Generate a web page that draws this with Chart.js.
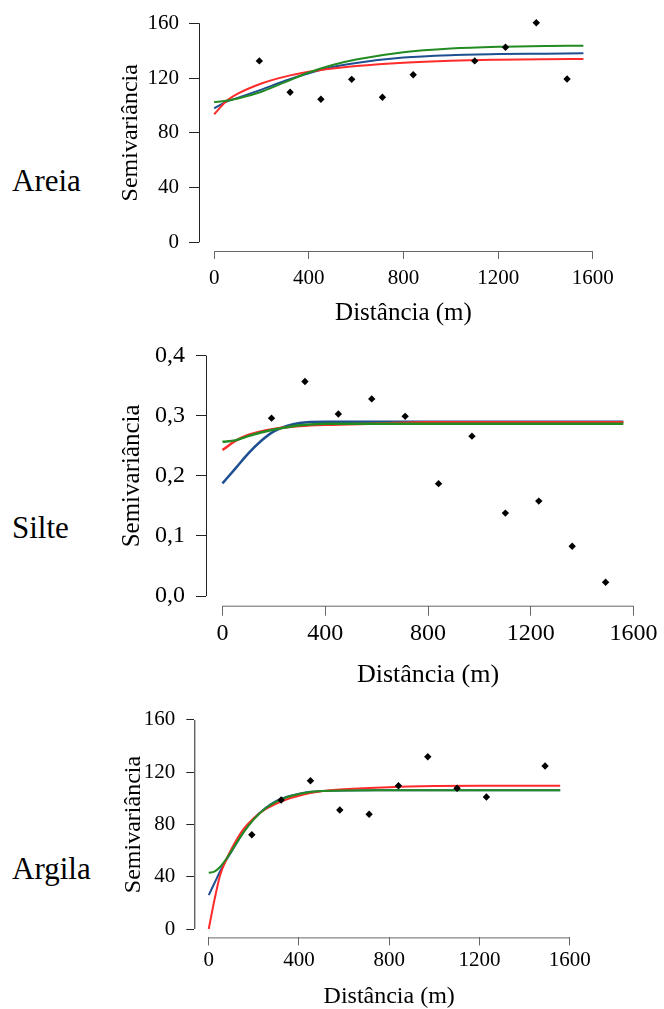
<!DOCTYPE html>
<html>
<head>
<meta charset="utf-8">
<script src="https://cdn.jsdelivr.net/npm/chart.js@4.4.1/dist/chart.umd.min.js"></script>
<style>
    body { margin: 0; background: #fff; }
    #wrap { position: relative; width: 664px; height: 1009px; overflow: hidden; }
    canvas { position: absolute; left: 0; }
    .rotulo { position: absolute; left: 12px; font-family: "Liberation Serif", "Times New Roman", serif; font-size: 31px; line-height: 31px; color: #000; }
</style>
</head>
<body>
<div id="wrap">
    <div class="rotulo" style="top:165px">Areia</div>
    <div class="rotulo" style="top:512px">Silte</div>
    <div class="rotulo" style="top:853px">Argila</div>
    <canvas id="chartAreia" width="664" height="335" style="top:0px"></canvas>
    <canvas id="chartSilte" width="664" height="370" style="top:330px"></canvas>
    <canvas id="chartArgila" width="664" height="319" style="top:690px"></canvas>
</div>
<script>
// Semivariogramas experimentais (pontos) e modelos ajustados (curvas)
const xTicks = [0, 400, 800, 1200, 1600];
const xTickLabels = ['0', '400', '800', '1200', '1600'];

// Areia
const areiaDist = [191, 321, 451, 581, 711, 841, 1101, 1231, 1361, 1491];
const areiaGamma = [132.5, 109.6, 104.5, 119.0, 105.9, 122.4, 132.5, 142.5, 160.4, 119.3];
const areiaCurveDist = [0, 50, 100, 200, 300, 400, 500, 600, 800, 1000, 1200, 1400, 1560];
const areiaRed = [93.5, 102.8, 108.5, 116, 121, 124.5, 127, 128.8, 131.2, 132.6, 133.3, 133.7, 133.9];
const areiaBlue = [97.9, 102.5, 105.5, 111.5, 118, 123.5, 128, 131, 134.9, 136.7, 137.5, 137.8, 138];
const areiaGreen = [102.5, 103.3, 105, 110, 117, 124, 129.5, 133.5, 138.8, 141.5, 142.8, 143.4, 143.6];
const areiaYTicks = [0, 40, 80, 120, 160];
const areiaYLabels = ['0', '40', '80', '120', '160'];

// Silte
const silteDist = [191, 321, 451, 581, 711, 841, 971, 1101, 1231, 1361, 1491];
const silteGamma = [0.296, 0.357, 0.303, 0.328, 0.299, 0.187, 0.266, 0.138, 0.158, 0.083, 0.023];
const silteCurveDist = [0, 50, 100, 150, 200, 250, 300, 400, 600, 800, 1000, 1200, 1400, 1560];
const silteRed = [0.243, 0.258, 0.268, 0.274, 0.278, 0.281, 0.283, 0.285, 0.287, 0.289, 0.289, 0.289, 0.289, 0.289];
const silteBlue = [0.1875, 0.212, 0.237, 0.258, 0.274, 0.283, 0.288, 0.290, 0.290, 0.290, 0.290, 0.290, 0.290, 0.290];
const silteGreen = [0.2567, 0.259, 0.266, 0.272, 0.277, 0.281, 0.284, 0.2867, 0.2867, 0.2867, 0.2867, 0.2867, 0.2867, 0.2867];
const silteYTicks = [0, 0.1, 0.2, 0.3, 0.4];
const silteYLabels = ['0,0', '0,1', '0,2', '0,3', '0,4'];

// Argila
const argilaDist = [191, 321, 451, 581, 711, 841, 971, 1101, 1231, 1491];
const argilaGamma = [72.2, 98.8, 113.5, 91.1, 87.8, 109.7, 131.9, 107.7, 101.1, 124.8];
const argilaCurveDist = [0, 25, 50, 75, 100, 150, 200, 250, 300, 350, 400, 450, 500, 600, 800, 1000, 1200, 1558];
const argilaRed = [0, 22, 41, 52, 61, 75.5, 85, 91.5, 96, 99.5, 102, 104, 105.5, 107, 108.6, 109.4, 109.7, 109.7];
const argilaBlue = [26, 35, 44, 52, 59, 73, 84.5, 92.5, 98, 101.5, 103.5, 105, 105.7, 106.1, 106.2, 106.2, 106.2, 106.2];
const argilaGreen = [43.1, 44, 47.5, 53, 59.5, 73, 84, 92, 97.5, 101, 103.3, 104.8, 105.6, 106.1, 106.2, 106.2, 106.2, 106.2];
const argilaYTicks = [0, 40, 80, 120, 160];
const argilaYLabels = ['0', '40', '80', '120', '160'];

const SERIF = '"Liberation Serif", "Times New Roman", serif';
const RED = '#ff2b2b';
const BLUE = '#1d4f91';
const GREEN = '#228b22';

function toXY(xs, ys) {
    return xs.map((x, i) => ({ x: x, y: ys[i] }));
}

// Eixos no estilo do R: linha só entre o primeiro e o último tick
const rAxes = {
    id: 'rAxes',
    afterDraw(chart, args, opts) {
        const { ctx, chartArea, scales } = chart;
        ctx.save();
        ctx.lineWidth = 1;
        ctx.strokeStyle = opts.yColor;
        const yt = opts.yTicks;
        ctx.beginPath();
        ctx.moveTo(chartArea.left + 0.5, scales.y.getPixelForValue(yt[0]));
        ctx.lineTo(chartArea.left + 0.5, scales.y.getPixelForValue(yt[yt.length - 1]));
        ctx.stroke();
        ctx.strokeStyle = opts.xColor;
        ctx.beginPath();
        ctx.moveTo(scales.x.getPixelForValue(xTicks[0]), chartArea.bottom + 0.5);
        ctx.lineTo(scales.x.getPixelForValue(xTicks[xTicks.length - 1]), chartArea.bottom + 0.5);
        ctx.stroke();
        ctx.restore();
    }
};

function buildPanel(id, p) {
    const curve = (data, color) => ({
        type: 'line',
        data: data,
        borderColor: color,
        borderWidth: p.lineWidth,
        pointRadius: 0,
        fill: false,
        cubicInterpolationMode: 'monotone',
        order: 1
    });

    // o primeiro dataset da lista é desenhado por último (fica por cima)
    new Chart(document.getElementById(id), {
        type: 'scatter',
        data: {
            datasets: [
                {
                    data: toXY(p.dist, p.gamma),
                    pointStyle: 'rectRot',
                    pointRadius: 3.7,
                    backgroundColor: '#000',
                    borderColor: '#000',
                    borderWidth: 0,
                    order: 0
                },
                curve(toXY(p.curveDist, p.green), GREEN),
                curve(toXY(p.curveDist, p.red), RED),
                curve(toXY(p.curveDist, p.blue), BLUE)
            ]
        },
        options: {
            responsive: false,
            animation: false,
            events: [],
            layout: { padding: p.padding },
            scales: {
                x: {
                    type: 'linear',
                    min: -64,
                    max: 1664,
                    afterBuildTicks: s => { s.ticks = xTicks.map(v => ({ value: v })); },
                    afterFit: s => { s.height = p.xHeight; },
                    border: { display: false },
                    grid: { drawOnChartArea: false, drawTicks: true, tickLength: p.xTickLen, color: '#666' },
                    ticks: {
                        maxRotation: 0,
                        autoSkip: false,
                        padding: p.xTickPad,
                        color: '#000',
                        font: { family: SERIF, size: p.tickSize, lineHeight: 1 },
                        callback: (v, i) => xTickLabels[i]
                    },
                    title: {
                        display: true,
                        text: 'Distância (m)',
                        color: '#000',
                        padding: { top: 0, bottom: p.xTitlePad },
                        font: { family: SERIF, size: p.xTitleSize, lineHeight: 1 }
                    }
                },
                y: {
                    type: 'linear',
                    min: p.yMin,
                    max: p.yMax,
                    afterBuildTicks: s => { s.ticks = p.yTicks.map(v => ({ value: v })); },
                    afterFit: s => { s.width = p.yWidth; },
                    border: { display: false },
                    grid: { drawOnChartArea: false, drawTicks: true, tickLength: p.yTickLen, color: '#222' },
                    ticks: {
                        autoSkip: false,
                        padding: p.yTickPad,
                        color: '#000',
                        font: { family: SERIF, size: p.tickSize, lineHeight: 0.4 },
                        callback: (v, i) => p.yLabels[i]
                    },
                    title: {
                        display: true,
                        text: 'Semivariância',
                        color: '#000',
                        padding: { top: 4, bottom: 0 },
                        font: { family: SERIF, size: p.yTitleSize, lineHeight: 1 }
                    }
                }
            },
            plugins: {
                legend: { display: false },
                tooltip: { enabled: false },
                rAxes: { yTicks: p.yTicks, yColor: '#222', xColor: '#666' }
            }
        },
        plugins: [rAxes]
    });
}

document.addEventListener('DOMContentLoaded', function () {
    buildPanel('chartAreia', {
        dist: areiaDist, gamma: areiaGamma, curveDist: areiaCurveDist,
        red: areiaRed, blue: areiaBlue, green: areiaGreen,
        yTicks: areiaYTicks, yLabels: areiaYLabels, yMin: -6.4, yMax: 166.4,
        padding: { left: 115, top: 14.5, right: 56, bottom: 5 },
        yWidth: 84, xHeight: 79,
        tickSize: 21, xTitleSize: 25, yTitleSize: 24,
        xTickLen: 8, xTickPad: 9, yTickLen: 10, yTickPad: 10, xTitlePad: 4,
        lineWidth: 2
    });
    buildPanel('chartSilte', {
        dist: silteDist, gamma: silteGamma, curveDist: silteCurveDist,
        red: silteRed, blue: silteBlue, green: silteGreen,
        yTicks: silteYTicks, yLabels: silteYLabels, yMin: -0.016, yMax: 0.416,
        padding: { left: 116, top: 16, right: 10.7, bottom: 7 },
        yWidth: 90, xHeight: 87.3,
        tickSize: 24, xTitleSize: 26, yTitleSize: 25,
        xTickLen: 10, xTickPad: 6, yTickLen: 10, yTickPad: 11, xTitlePad: 5,
        lineWidth: 2.5
    });
    buildPanel('chartArgila', {
        dist: argilaDist, gamma: argilaGamma, curveDist: argilaCurveDist,
        red: argilaRed, blue: argilaBlue, green: argilaGreen,
        yTicks: argilaYTicks, yLabels: argilaYLabels, yMin: -6.4, yMax: 166.4,
        padding: { left: 117.7, top: 21.6, right: 79.9, bottom: 0 },
        yWidth: 76.6, xHeight: 71.6,
        tickSize: 21, xTitleSize: 24, yTitleSize: 24,
        xTickLen: 8, xTickPad: 5, yTickLen: 8, yTickPad: 11, xTitlePad: 0,
        lineWidth: 2
    });
});
</script>
</body>
</html>
